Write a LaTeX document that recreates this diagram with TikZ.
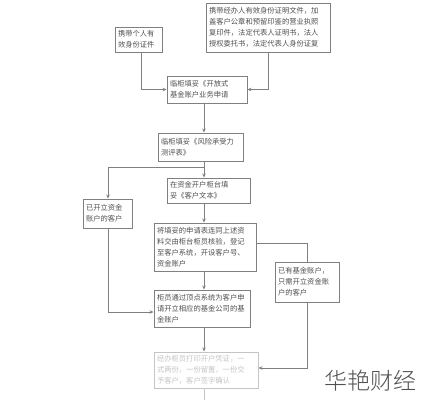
\documentclass[tikz,border=0pt]{standalone}
\usepackage{fontspec}
\setmainfont{Liberation Serif}
\newfontfamily\cjk{Noto Sans CJK SC}
\newfontfamily\cjkl{Noto Sans CJK SC Light}
\usetikzlibrary{arrows.meta,positioning}
\definecolor{ln}{HTML}{808080}
\definecolor{tx}{HTML}{505050}
\definecolor{faded}{HTML}{C4C4C4}
\tikzset{
  box/.style={draw=ln, line width=0.9pt, inner sep=3pt, font=\cjk\fontsize{7.3}{11}\selectfont, text=tx, align=left, anchor=center},
  conn/.style={draw=ln, line width=0.9pt},
  arr/.style={conn, -{Stealth[length=4pt,width=3.5pt]}},
}
\newcommand{\mkbox}[7]{% name, x1, y1, x2, y2, extra, text
  \node[box,#6, minimum width={#4pt-#2pt}, minimum height={#5pt-#3pt}, text width={#4pt-#2pt-6pt}] (#1) at ({(#2+#4)/2},{(#3+#5)/2}) {#7};}
\begin{document}
\begin{tikzpicture}[x=1pt,y=-1pt]
\useasboundingbox (0,0) rectangle (423,400);
\fill[white] (0,0) rectangle (423,400);
\mkbox{b1}{115}{27}{162}{52}{}{携带个人有\\效身份证件}
\mkbox{b2}{206}{3}{330}{52}{}{携带经办人有效身份证明文件，加\\盖客户公章和预留印鉴的营业执照\\复印件，法定代表人证明书，法人\\授权委托书，法定代表人身份证复}
\mkbox{b3}{167}{76}{247}{103}{}{临柜填妥《开放式\\基金账户业务申请}
\mkbox{b4}{158}{133}{243}{161}{}{临柜填妥《风险承受力\\测评表》}
\mkbox{b5}{167}{178}{250}{203}{}{在资金开户柜台填\\妥《客户文本》}
\mkbox{b6}{83}{199}{132}{228}{}{已开立资金\\账户的客户}
\mkbox{b7}{154}{223}{256}{271}{}{将填妥的申请表连同上述资\\料交由柜台柜员核验，登记\\至客户系统，开设客户号、\\资金账户}
\mkbox{b8}{275}{262}{339}{302}{}{已有基金账户，\\只需开立资金账\\户的客户}
\mkbox{b9}{154}{290}{250}{327}{}{柜员通过顶点系统为客户申\\请开立相应的基金公司的基\\金账户}
\mkbox{b10}{154}{352}{258}{388}{draw=faded,text=faded}{经办柜员打印开户凭证，一\\式两份，一份留置，一份交\\予客户，客户签字确认}
\coordinate (t) at (204,0);
\coordinate (br) at (108,167);
\coordinate (r7) at (307,243);
\coordinate (r8) at (307,368);
\coordinate (l6) at (108,312);
\coordinate (bot) at (204,400);
\draw[arr] (b1.south -| 141,0) |- (b3.west);
\draw[arr] (b2.south) |- (b3.east);
\draw[arr] (b3.south -| t) -- (b4.north -| t);
\draw[arr] (b4.south -| t) -- (b5.north -| t);
\draw[arr] (b4.south -| t) |- (br) -- (b6.north -| br);
\draw[arr] (b5.south -| t) -- (b7.north -| t);
\draw[conn] (b7.east |- r7) -- (r7) -- (b8.north -| r7);
\draw[arr] (b8.south -| r8) -- (r8) -- (b10.east |- r8);
\draw[arr] (b6.south -| l6) -- (l6) -- (b9.west |- l6);
\draw[arr] (b7.south -| t) -- (b9.north -| t);
\draw[arr] (b9.south -| t) -- (b10.north -| t);
\draw[conn, draw=faded] (b10.south -| t) -- (bot);
\node[font=\cjkl\fontsize{23}{23}\selectfont, text=tx, anchor=center] (wm) at (370,381) {华艳财经};
\end{tikzpicture}
\end{document}
